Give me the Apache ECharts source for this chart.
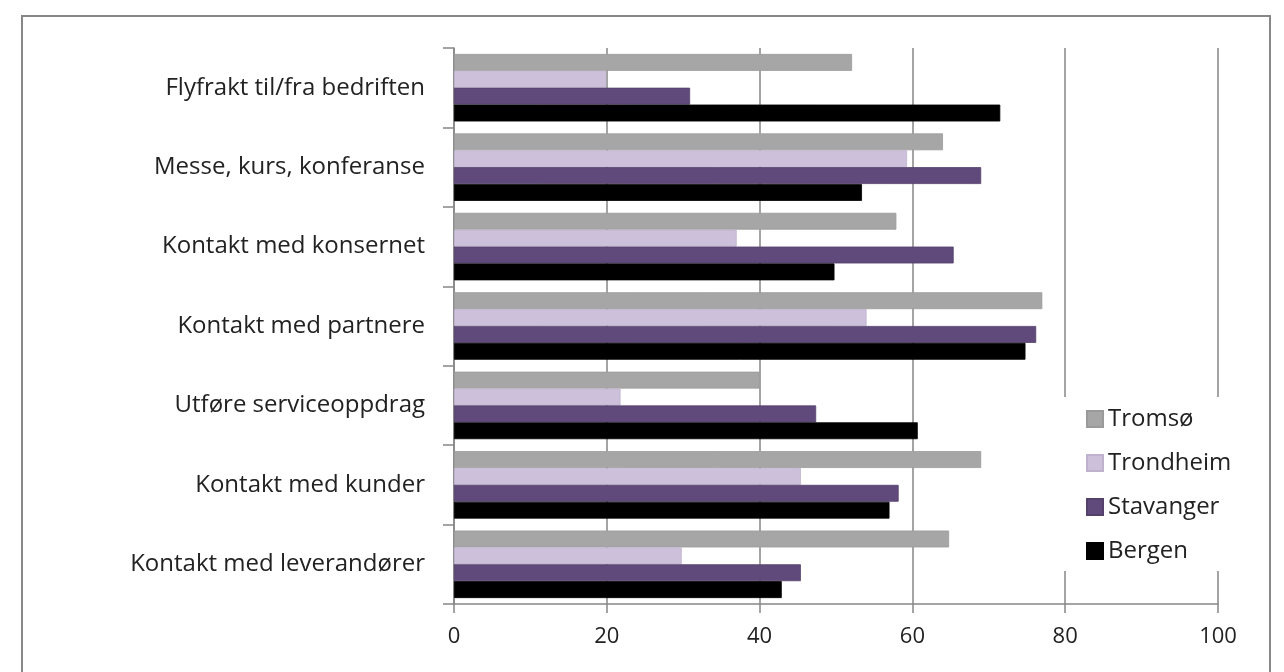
<!DOCTYPE html>
<html>
<head>
<meta charset="utf-8">
<script src="https://cdn.jsdelivr.net/npm/echarts@6/dist/echarts.min.js"></script>
<style>
  html, body { margin: 0; padding: 0; background: #ffffff; }
  #chart { width: 1284px; height: 672px; }
</style>
</head>
<body>
<div id="chart"></div>
<script>
// Categories, listed top to bottom
const categories = [
  'Flyfrakt til/fra bedriften',
  'Messe, kurs, konferanse',
  'Kontakt med konsernet',
  'Kontakt med partnere',
  'Utføre serviceoppdrag',
  'Kontakt med kunder',
  'Kontakt med leverandører'
];

const seriesNames = ['Tromsø', 'Trondheim', 'Stavanger', 'Bergen'];

// Values per city, in the same order as categories
const tromso    = [52.1, 64.0, 57.9, 77.0, 40.0, 69.0, 64.8];
const trondheim = [19.9, 59.3, 37.0, 54.0, 21.8, 45.4, 29.8];
const stavanger = [30.9, 69.0, 65.4, 76.2, 47.4, 58.2, 45.4];
const bergen    = [71.5, 53.4, 49.8, 74.8, 60.7, 57.0, 42.9];

const xTicks = [0, 20, 40, 60, 80, 100];

const colors = ['#a6a6a6', '#ccc0da', '#604a7b', '#000000'];
const borders = ['#9a9a9a', '#bfb2cf', '#53406b', '#000000'];
const values = [tromso, trondheim, stavanger, bergen];

const FONT = '"Open Sans", "DejaVu Sans", sans-serif';
const AXIS_GREY = '#868686';

const chart = echarts.init(document.getElementById('chart'), null, { renderer: 'canvas' });

chart.setOption({
  backgroundColor: '#ffffff',
  animation: false,
  grid: { left: 454, right: 66, top: 48, bottom: 68, containLabel: false },
  xAxis: {
    type: 'value',
    min: xTicks[0],
    max: xTicks[xTicks.length - 1],
    interval: xTicks[1] - xTicks[0],
    axisLine: { show: true, lineStyle: { color: AXIS_GREY, width: 1.5 } },
    axisTick: { show: true, length: 9, inside: false, lineStyle: { color: AXIS_GREY, width: 1.5 } },
    axisLabel: { margin: 22, color: '#222222', fontFamily: FONT, fontSize: 22 },
    splitLine: { show: true, lineStyle: { color: AXIS_GREY, width: 1.5 } }
  },
  yAxis: {
    type: 'category',
    data: categories,
    inverse: true,
    axisLine: { show: true, lineStyle: { color: AXIS_GREY, width: 1.5 } },
    axisTick: { show: true, length: 11, inside: false, lineStyle: { color: AXIS_GREY, width: 1.5 } },
    axisLabel: { margin: 29, color: '#222222', fontFamily: FONT, fontSize: 24 },
    splitLine: { show: false }
  },
  legend: {
    orient: 'vertical',
    left: 1063,
    top: 397,
    padding: [10, 20, 8, 23],
    backgroundColor: '#ffffff',
    itemWidth: 16,
    itemHeight: 16,
    itemGap: 20,
    icon: 'rect',
    textStyle: { color: '#222222', fontFamily: FONT, fontSize: 24 },
    data: seriesNames
  },
  series: seriesNames.map((name, i) => ({
    name: name,
    type: 'bar',
    data: values[i],
    barGap: '0%',
    barCategoryGap: '15%',
    itemStyle: { color: colors[i], borderColor: borders[i], borderWidth: 0.8 }
  })),
  graphic: [{
    type: 'rect',
    silent: true,
    z: 100,
    shape: { x: 22, y: 16, width: 1248, height: 720 },
    style: { fill: 'none', stroke: '#878787', lineWidth: 2 }
  }]
});
</script>
</body>
</html>
